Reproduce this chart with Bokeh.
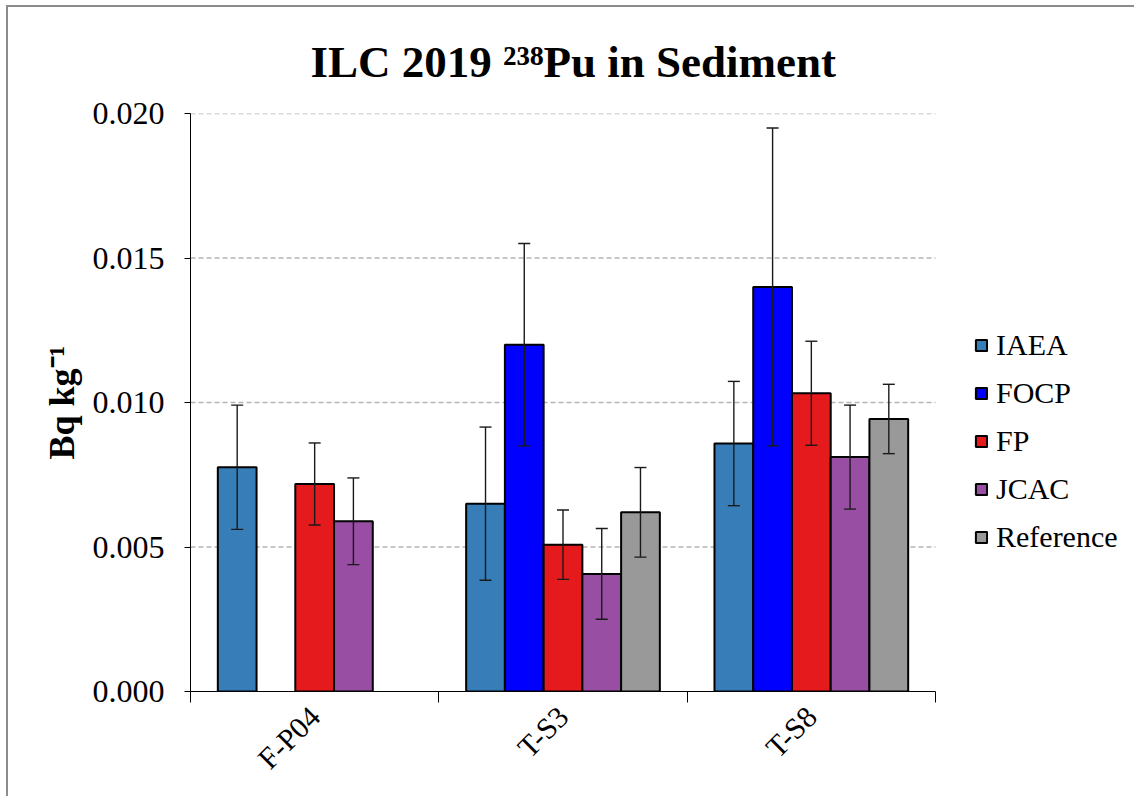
import math

from bokeh.embed import file_html
from bokeh.models import (ColumnDataSource, FixedTicker, Legend, LegendItem,
                          NumeralTickFormatter, Range1d, TeeHead, Whisker)
from bokeh.plotting import figure
from bokeh.resources import INLINE
from bokeh.transform import dodge

# --- data -------------------------------------------------------------------
samples = ["F-P04", "T-S3", "T-S8"]
labs = ["IAEA", "FOCP", "FP", "JCAC", "Reference"]
colors = ["#377EB8", "#0000FF", "#E41A1C", "#984EA3", "#999999"]

# activity (Bq kg-1) and its uncertainty, per sample; None = not reported
iaea = [0.00776, 0.00650, 0.00858]
iaea_unc = [0.00215, 0.00265, 0.00215]
focp = [None, 0.01200, 0.01400]
focp_unc = [None, 0.00350, 0.00550]
fp = [0.00718, 0.00508, 0.01032]
fp_unc = [0.00142, 0.00120, 0.00180]
jcac = [0.00589, 0.00407, 0.00811]
jcac_unc = [0.00150, 0.00157, 0.00180]
reference = [None, 0.00620, 0.00943]
reference_unc = [None, 0.00155, 0.00120]

values = [iaea, focp, fp, jcac, reference]
uncertainties = [iaea_unc, focp_unc, fp_unc, jcac_unc, reference_unc]

y_ticks = [0.0, 0.005, 0.010, 0.015, 0.020]

# --- geometry (canvas sits inside a thin grey chart border) -----------------------
OX, OY = 8, 7                            # canvas offset caused by margin + border
W, H = 1134 - OX + 8, 796 - OY + 2
FL, FT, FB = 190 - OX, 113 - OY, 691 - OY # plot frame edges (canvas pixels)
AXIS_R = 935 - OX                        # right end of the category axis
Y_MAX = 0.020
BAR_W = 0.156
N = len(samples)
centers = [i + 0.5 for i in range(N)]    # each sample occupies one unit slot
# the frame also spans the legend area to the right of the last category
X_MAX = N * (W - FL) / (AXIS_R - FL)

serif = "Liberation Serif"

p = figure(width=W, height=H, x_range=Range1d(0, X_MAX), y_range=Range1d(0, Y_MAX),
           output_backend="svg", toolbar_location=None,
           min_border_left=FL, min_border_right=0,
           min_border_top=FT, min_border_bottom=H - FB,
           margin=(OY - 2, 0, 0, OX - 2),
           styles={"border-top": "2px solid #8c8c8c", "border-left": "2px solid #8c8c8c",
                   "border-right": "none", "border-bottom": "none"})
p.outline_line_color = None
p.background_fill_color = "white"
p.border_fill_color = "white"

# --- title -------------------------------------------------------------------
p.title.text = "ILC 2019 ²³⁸Pu in Sediment"
p.title.text_font = serif
p.title.text_font_style = "bold"
p.title.text_font_size = "45px"
p.title.text_color = "black"
p.title.align = "left"
p.title.offset = 120
p.title.standoff = 54

# --- dashed horizontal grid, limited to the category span -----------------------
grid_y = y_ticks[1:]
p.segment(x0=[0] * len(grid_y), x1=[N] * len(grid_y), y0=grid_y, y1=grid_y,
          line_color="#b4b4b4", line_dash="5 3", line_width=1.3, level="underlay")

# --- bars and error bars ------------------------------------------------------
legend_items = []
for j, (name, col, vals, uncs) in enumerate(zip(labs, colors, values, uncertainties)):
    rows = [(c, v, u) for c, v, u in zip(centers, vals, uncs) if v is not None]
    src = ColumnDataSource(dict(
        pos=[r[0] for r in rows],
        value=[r[1] for r in rows],
        upper=[r[1] + r[2] for r in rows],
        lower=[r[1] - r[2] for r in rows],
    ))
    offset = (j - 2) * BAR_W
    r = p.vbar(x=dodge("pos", offset), top="value", width=BAR_W,
               source=src, fill_color=col, line_color="black", line_width=2)
    legend_items.append(LegendItem(label=name, renderers=[r]))
    wh = Whisker(base=dodge("pos", offset), upper="upper", lower="lower", source=src,
                 level="overlay", line_color="#1a1a1a", line_width=1.4,
                 upper_head=TeeHead(size=12, line_color="#1a1a1a", line_width=1.4),
                 lower_head=TeeHead(size=12, line_color="#1a1a1a", line_width=1.4))
    p.add_layout(wh)

# --- axes -------------------------------------------------------------------
yax = p.yaxis[0]
yax.ticker = FixedTicker(ticks=y_ticks)
yax.formatter = NumeralTickFormatter(format="0.000")
yax.major_label_text_font = serif
yax.major_label_text_font_size = "32px"
yax.major_label_text_color = "black"
yax.major_tick_in = 0
yax.major_tick_out = 6
yax.major_label_standoff = 20
yax.minor_tick_line_color = None
yax.axis_line_color = "black"
yax.major_tick_line_color = "black"
yax.axis_label = "Bq kg⁻¹"
yax.axis_label_text_font = serif
yax.axis_label_text_font_style = "bold"
yax.axis_label_text_font_size = "36px"
yax.axis_label_text_color = "black"
yax.axis_label_standoff = 8

# sample names at the slot centres, short ticks on the slot boundaries
xax = p.xaxis[0]
xax.bounds = (0, N)
xax.ticker = FixedTicker(ticks=centers, minor_ticks=list(range(N + 1)))
xax.major_label_overrides = {c: s for c, s in zip(centers, samples)}
xax.major_label_orientation = math.pi / 4
xax.major_label_text_font = serif
xax.major_label_text_font_size = "30px"
xax.major_label_text_color = "black"
xax.major_label_standoff = 9
xax.major_tick_line_color = None
xax.major_tick_in = 0
xax.major_tick_out = 0
xax.minor_tick_in = 0
xax.minor_tick_out = 11
xax.minor_tick_line_color = "black"
xax.axis_line_color = "black"

p.xgrid.visible = False
p.ygrid.visible = False

# --- legend -------------------------------------------------------------------
legend = Legend(items=legend_items, location=(974 - 190, 691 - 554),
                label_text_font=serif, label_text_font_size="30px",
                label_text_color="black",
                glyph_width=14, glyph_height=14, label_height=20,
                spacing=14, padding=0, margin=0, label_standoff=8,
                border_line_color=None, background_fill_alpha=0)
p.add_layout(legend, "center")

open("out.html", "w").write(file_html(p, INLINE))
